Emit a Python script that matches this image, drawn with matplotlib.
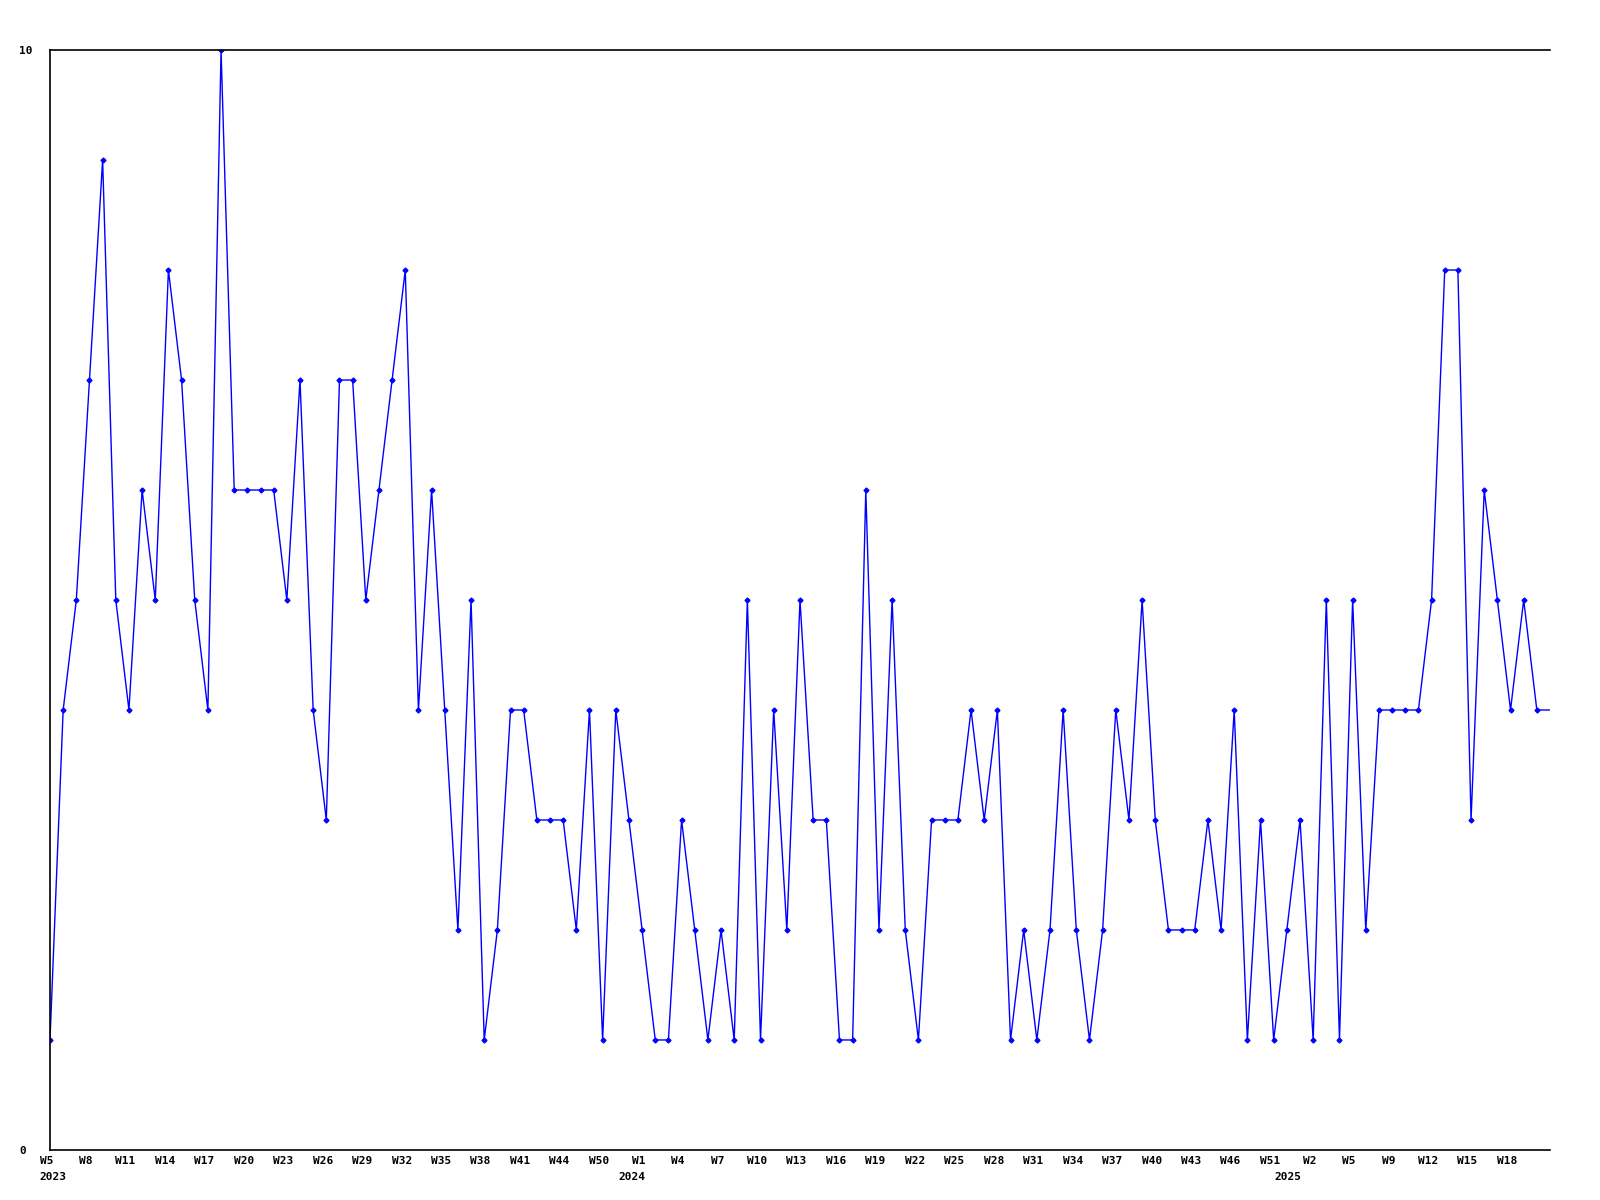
import matplotlib
matplotlib.use('Agg')
import matplotlib.pyplot as plt
import matplotlib.transforms as mtransforms

# weekly counts, first point is 2023 W5
values = [1, 4, 5, 7, 9, 5, 4, 6, 5, 8,
          7, 5, 4, 10, 6, 6, 6, 6, 5, 7,
          4, 3, 7, 7, 5, 6, 7, 8, 4, 6,
          4, 2, 5, 1, 2, 4, 4, 3, 3, 3,
          2, 4, 1, 4, 3, 2, 1, 1, 3, 2,
          1, 2, 1, 5, 1, 4, 2, 5, 3, 3,
          1, 1, 6, 2, 5, 2, 1, 3, 3, 3,
          4, 3, 4, 1, 2, 1, 2, 4, 2, 1,
          2, 4, 3, 5, 3, 2, 2, 2, 3, 2,
          4, 1, 3, 1, 2, 3, 1, 5, 1, 5,
          2, 4, 4, 4, 4, 5, 8, 8, 3, 6,
          5, 4, 5, 4]

# every third week is labelled
tick_labels = ['W5', 'W8', 'W11', 'W14', 'W17', 'W20', 'W23', 'W26', 'W29', 'W32',
               'W35', 'W38', 'W41', 'W44', 'W50', 'W1', 'W4', 'W7', 'W10', 'W13',
               'W16', 'W19', 'W22', 'W25', 'W28', 'W31', 'W34', 'W37', 'W40', 'W43',
               'W46', 'W51', 'W2', 'W5', 'W9', 'W12', 'W15', 'W18']
year_labels = ['2023', '2024', '2025']
year_index = [0, 45, 96]
year_shift = [0.25, -0.8, -1.9]   # small nudges of the year text

n = len(values)
x = list(range(n))

fig = plt.figure(figsize=(16, 12), dpi=100)
ax = fig.add_axes([0.03125, 0.0417, 0.9375, 0.9166])

# line runs on to the right edge at the last value
ax.plot(x + [n], values + [values[-1]], color='#0000ff', lw=1)
ax.plot(x, values, linestyle='none', marker='D', markersize=2.5, color='#0000ff')

ax.set_xlim(0, n)
ax.set_ylim(0, 10)

font = {'family': 'DejaVu Sans Mono', 'weight': 'bold', 'size': 8}

ax.set_xticks(list(range(0, 3 * len(tick_labels), 3)))
ax.set_xticklabels(tick_labels, **font)
ax.tick_params(axis='x', length=0, pad=4)
nudge = mtransforms.ScaledTranslation(-3.6 / 100, 0, fig.dpi_scale_trans)
for lab in ax.get_xticklabels():
    lab.set_transform(lab.get_transform() + nudge)

ax.set_yticks([0, 10])
ax.set_yticklabels(['0', '10'], ha='left', **font)
ax.tick_params(axis='y', length=0, pad=22)

trans = mtransforms.blended_transform_factory(ax.transData, fig.transFigure)
for lab, i, d in zip(year_labels, year_index, year_shift):
    ax.text(i + d, 1 - 1177 / 1200, lab, transform=trans, ha='center', va='center', **font)

ax.spines['right'].set_visible(False)
for s in ['left', 'top', 'bottom']:
    ax.spines[s].set_linewidth(1.2)

fig.savefig('out.png', dpi=100)
